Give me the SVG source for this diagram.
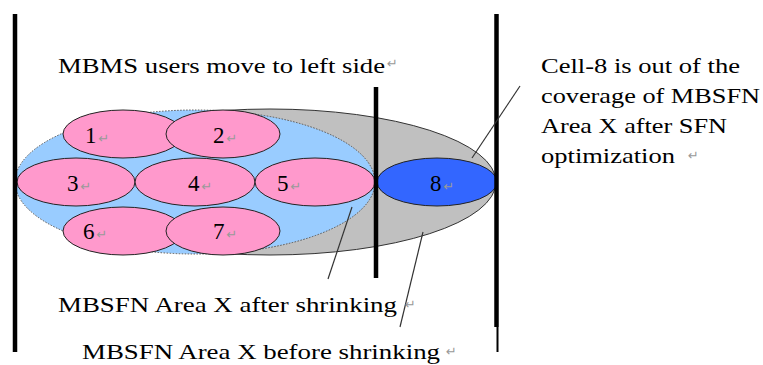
<svg xmlns="http://www.w3.org/2000/svg" width="763" height="365" viewBox="0 0 763 365">
<style>
.t{font-family:"Liberation Serif",serif;font-size:22px;fill:#000}
.d{font-family:"Liberation Serif",serif;font-size:23px;fill:#000}
.m{font-family:"DejaVu Sans",sans-serif;font-size:13px;fill:#999}
.cell{fill:#FF99CC;stroke:#222;stroke-width:1}
.bar{stroke:#000;stroke-width:4.5;fill:none}
.lead{stroke:#333;stroke-width:1.2;fill:none}
</style>
<rect width="763" height="365" fill="#fff"/>
<g id="area-before"><ellipse cx="270" cy="182" rx="226" ry="73" fill="#C0C0C0" stroke="#333" stroke-width="1"/></g>
<g id="area-after"><ellipse cx="195" cy="182" rx="180" ry="72" fill="#99CCFF" stroke="#555" stroke-width="1" stroke-dasharray="1.5 1.5"/></g>
<g id="cell-1"><ellipse class="cell" cx="123" cy="134" rx="60" ry="24"/><text class="d" x="85" y="143">1<tspan class="m" dx="2">↵</tspan></text></g>
<g id="cell-2"><ellipse class="cell" cx="223" cy="134" rx="57" ry="24"/><text class="d" x="213" y="143">2<tspan class="m" dx="2">↵</tspan></text></g>
<g id="cell-3"><ellipse class="cell" cx="76" cy="182" rx="59" ry="24"/><text class="d" x="67" y="191">3<tspan class="m" dx="2">↵</tspan></text></g>
<g id="cell-4"><ellipse class="cell" cx="195" cy="182" rx="60" ry="24"/><text class="d" x="188" y="191">4<tspan class="m" dx="2">↵</tspan></text></g>
<g id="cell-5"><ellipse class="cell" cx="315" cy="182" rx="60" ry="24"/><text class="d" x="277" y="191">5<tspan class="m" dx="2">↵</tspan></text></g>
<g id="cell-6"><ellipse class="cell" cx="123" cy="231" rx="60" ry="24"/><text class="d" x="83" y="239">6<tspan class="m" dx="2">↵</tspan></text></g>
<g id="cell-7"><ellipse class="cell" cx="223" cy="231" rx="57" ry="24"/><text class="d" x="213" y="239">7<tspan class="m" dx="2">↵</tspan></text></g>
<g id="cell-8"><ellipse cx="437" cy="182" rx="60" ry="24" fill="#3366FF" stroke="#222" stroke-width="1"/><text class="d" x="430" y="191">8<tspan class="m" dx="2">↵</tspan></text></g>
<g id="bars">
<line class="bar" x1="15" y1="14" x2="15" y2="352"/>
<line class="bar" x1="376" y1="87" x2="376" y2="278"/>
<line class="bar" x1="496.5" y1="14" x2="496.5" y2="327"/>
<line x1="497.5" y1="327" x2="497.5" y2="352" stroke="#000" stroke-width="2"/>
</g>
<g id="connectors">
<line class="lead" x1="520" y1="86" x2="472" y2="158"/>
<line class="lead" x1="352" y1="207" x2="328" y2="279"/>
<line class="lead" x1="423" y1="232" x2="400" y2="327"/>
</g>
<g id="labels">
<text class="t" x="58" y="73" textLength="327" lengthAdjust="spacingAndGlyphs">MBMS users move to left side</text>
<text class="m" x="387" y="68">↵</text>
<text class="t" x="541" y="73" textLength="199" lengthAdjust="spacingAndGlyphs">Cell-8 is out of the</text>
<text class="t" x="541" y="103" textLength="219" lengthAdjust="spacingAndGlyphs">coverage of MBSFN</text>
<text class="t" x="541" y="133" textLength="186" lengthAdjust="spacingAndGlyphs">Area X after SFN</text>
<text class="t" x="541" y="163" textLength="134" lengthAdjust="spacingAndGlyphs">optimization</text>
<text class="m" x="688" y="160">↵</text>
<text class="t" x="58" y="312" textLength="339" lengthAdjust="spacingAndGlyphs">MBSFN Area X after shrinking</text>
<text class="m" x="405" y="309">↵</text>
<text class="t" x="82" y="359" textLength="358" lengthAdjust="spacingAndGlyphs">MBSFN Area X before shrinking</text>
<text class="m" x="446" y="356">↵</text>
</g>
</svg>
